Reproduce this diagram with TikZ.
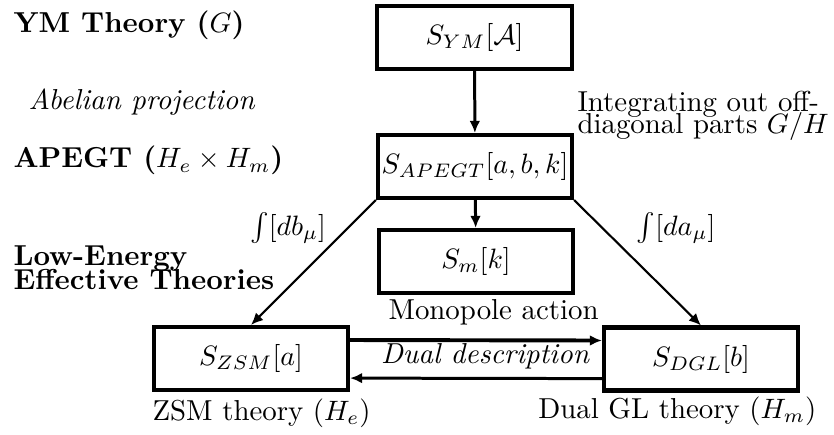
\documentclass[tikz,border=0pt]{standalone}
\usetikzlibrary{arrows.meta}
\begin{document}
\fontsize{10.3}{12.4}\selectfont
\begin{tikzpicture}[x=0.357pt,y=-0.357pt,
  box/.style={draw, line width=1.45pt, minimum width=69.3pt, minimum height=22.5pt, inner sep=0pt},
  arr/.style={-{Latex[length=4.3pt,width=3.8pt]}},
  lbl/.style={inner sep=0pt}]
\useasboundingbox (0,0) rectangle (834,435);
% boxes
\node[box] (ym) at (474.5,37.5) {$S_{YM}[\mathcal{A}]$};
\node[box] (apegt) at (475,166.5) {$S_{APEGT}[a,b,k]$};
\node[box] (sm) at (476,261.5) {$S_m[k]$};
\node[box] (zsm) at (251,358.5) {$S_{ZSM}[a]$};
\node[box] (dgl) at (701,359) {$S_{DGL}[b]$};
% connectors
\draw[arr, line width=1.07pt] (ym) -- (apegt);
\draw[arr, line width=1.07pt] (apegt) -- (sm);
\draw[arr, line width=0.75pt] (apegt.south west) -- (zsm.north);
\draw[arr, line width=0.75pt] (apegt.south east) -- (dgl.north);
\draw[arr, line width=1.4pt] ([yshift=6.6pt]zsm.east) -- ([yshift=6.6pt]dgl.west);
\draw[arr, line width=1.07pt] ([yshift=-7pt]dgl.west) -- ([yshift=-7pt]zsm.east);
% labels
\node[lbl, anchor=base west, font=\bfseries] (lym) at (13,33) {YM Theory ($G$)};
\node[lbl, anchor=base west, font=\itshape] (lab) at (28,110) {Abelian projection};
\node[lbl, anchor=base west, font=\bfseries] (lap) at (13,168) {APEGT ($H_e\times H_m$)};
\node[lbl, anchor=base west, font=\bfseries, align=left] (low) at (13,290) {Low-Energy\\[-3.5pt]Effective Theories};
\node[lbl] (idb) at (288,228) {$\int[db_\mu]$};
\node[lbl] (ida) at (676,228) {$\int[da_\mu]$};
\node[lbl, anchor=base west, align=left] (int) at (577,134) {Integrating out off-\\[-4.3pt]diagonal parts $G/H$};
\node[lbl, anchor=base west] (mon) at (388,320) {Monopole action};
\node[lbl, anchor=base, font=\itshape] (dd) at (485,363) {Dual description};
\node[lbl, anchor=base west] (zt) at (152,420) {ZSM theory ($H_e$)};
\node[lbl, anchor=base east] (dt) at (817,418) {Dual GL theory ($H_m$)};
\end{tikzpicture}
\end{document}
